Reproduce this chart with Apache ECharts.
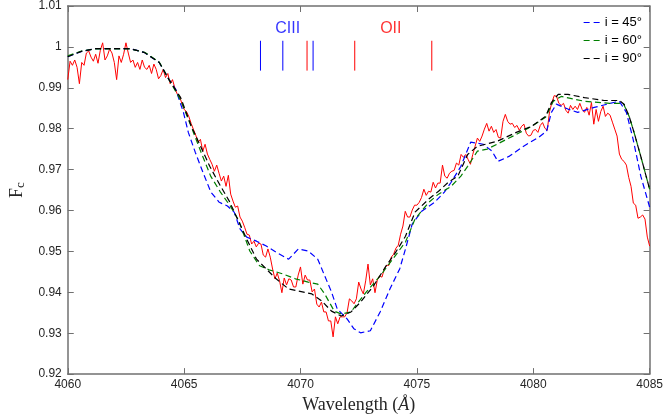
<!DOCTYPE html>
<html>
<head>
<meta charset="utf-8">
<script src="https://cdn.jsdelivr.net/npm/echarts@6/dist/echarts.min.js"></script>
<style>html,body{margin:0;padding:0;background:#fff}#main{width:666px;height:419px}</style>
</head>
<body>
<div id="main"></div>
<script>
// ---- Data ----
const xTicks = [4060, 4065, 4070, 4075, 4080, 4085];
const yTicks = [0.92, 0.93, 0.94, 0.95, 0.96, 0.97, 0.98, 0.99, 1.00, 1.01];

// observed spectrum (red), sampled every 0.1 Å from 4060.0
const obsStart = 4060.0;
const obsStep = 0.1;
const obsFlux = [
  0.9920, 0.9965, 0.9955, 0.9968, 0.9950, 0.9910, 0.9962, 0.9955, 0.9985, 0.9990,
  0.9975, 0.9965, 0.9982, 0.9960, 0.9992, 1.0010, 0.9968, 0.9978, 0.9995, 0.9985,
  0.9962, 0.9920, 0.9978, 0.9962, 0.9982, 1.0010, 0.9985, 0.9962, 0.9968, 0.9950,
  0.9962, 0.9945, 0.9968, 0.9950, 0.9945, 0.9955, 0.9935, 0.9958, 0.9945, 0.9922,
  0.9930, 0.9945, 0.9925, 0.9935, 0.9910, 0.9920, 0.9900, 0.9885, 0.9880, 0.9862,
  0.9847, 0.9842, 0.9830, 0.9813, 0.9798, 0.9784, 0.9767, 0.9774, 0.9745, 0.9762,
  0.9738, 0.9725, 0.9713, 0.9696, 0.9711, 0.9691, 0.9672, 0.9684, 0.9659, 0.9686,
  0.9640, 0.9623, 0.9608, 0.9611, 0.9584, 0.9574, 0.9559, 0.9542, 0.9540, 0.9518,
  0.9525, 0.9511, 0.9520, 0.9518, 0.9491, 0.9486, 0.9506, 0.9486, 0.9457, 0.9433,
  0.9447, 0.9428, 0.9399, 0.9435, 0.9418, 0.9433, 0.9430, 0.9413, 0.9413, 0.9442,
  0.9462, 0.9420, 0.9442, 0.9430, 0.9430, 0.9401, 0.9408, 0.9371, 0.9364, 0.9376,
  0.9352, 0.9352, 0.9330, 0.9330, 0.9291, 0.9340, 0.9323, 0.9340, 0.9340, 0.9340,
  0.9350, 0.9384, 0.9379, 0.9372, 0.9384, 0.9425, 0.9408, 0.9396, 0.9428, 0.9469,
  0.9418, 0.9433, 0.9399, 0.9430, 0.9440, 0.9437, 0.9457, 0.9466, 0.9466, 0.9486,
  0.9493, 0.9508, 0.9515, 0.9542, 0.9562, 0.9598, 0.9584, 0.9584, 0.9601, 0.9613,
  0.9613, 0.9620, 0.9632, 0.9652, 0.9637, 0.9647, 0.9645, 0.9669, 0.9655, 0.9667,
  0.9667, 0.9711, 0.9684, 0.9679, 0.9691, 0.9696, 0.9698, 0.9716, 0.9711, 0.9737,
  0.9730, 0.9737, 0.9725, 0.9713, 0.9737, 0.9757, 0.9777, 0.9769, 0.9782, 0.9799,
  0.9813, 0.9794, 0.9806, 0.9791, 0.9798, 0.9779, 0.9777, 0.9818, 0.9835, 0.9818,
  0.9811, 0.9813, 0.9803, 0.9808, 0.9796, 0.9806, 0.9811, 0.9789, 0.9782, 0.9784,
  0.9796, 0.9798, 0.9791, 0.9808, 0.9815, 0.9801, 0.9796, 0.9842, 0.9864, 0.9881,
  0.9879, 0.9862, 0.9857, 0.9862, 0.9845, 0.9838, 0.9857, 0.9847, 0.9855, 0.9847,
  0.9862, 0.9847, 0.9840, 0.9852, 0.9833, 0.9864, 0.9811, 0.9847, 0.9818, 0.9842,
  0.9855, 0.9830, 0.9838, 0.9833, 0.9816, 0.9799, 0.9782, 0.9738, 0.9725, 0.9720,
  0.9711, 0.9681, 0.9659, 0.9618, 0.9613, 0.9581, 0.9584, 0.9589, 0.9579, 0.9535,
  0.9513
];

// model i = 45°
const wave45 = [4060, 4060.59, 4061.21, 4062.68, 4063.30, 4063.93, 4064.35, 4064.64, 4064.97, 4065.18,
  4065.48, 4065.81, 4066.15, 4066.51, 4066.86, 4067.15, 4067.40, 4067.69, 4068.11, 4068.53,
  4068.95, 4069.49, 4069.91, 4070.33, 4070.74, 4071.04, 4071.33, 4071.58, 4072.00, 4072.29,
  4072.58, 4073.00, 4073.42, 4073.84, 4074.26, 4074.51, 4074.80, 4075.22, 4075.76, 4076.18,
  4076.47, 4076.89, 4077.31, 4077.85, 4078.23, 4078.48, 4078.98, 4079.52, 4080.23, 4080.57,
  4080.78, 4080.99, 4081.49, 4081.91, 4082.62, 4083.45, 4083.70, 4084.00, 4084.29, 4084.62,
  4085];
const flux45 = [0.9976, 0.9989, 0.9996, 0.9996, 0.9986, 0.9962, 0.9920, 0.9896, 0.9840, 0.9791,
  0.9742, 0.9693, 0.9645, 0.9620, 0.9611, 0.9596, 0.9555, 0.9535, 0.9525, 0.9513,
  0.9498, 0.9481, 0.9506, 0.9501, 0.9481, 0.9440, 0.9401, 0.9359, 0.9335, 0.9311,
  0.9301, 0.9306, 0.9352, 0.9408, 0.9457, 0.9506, 0.9567, 0.9599, 0.9620, 0.9645,
  0.9669, 0.9708, 0.9767, 0.9762, 0.9745, 0.9720, 0.9733, 0.9755, 0.9779, 0.9794,
  0.9840, 0.9860, 0.9848, 0.9840, 0.9852, 0.9864, 0.9867, 0.9840, 0.9774, 0.9684,
  0.9608];

// model i = 60°
const wave60 = [4060, 4060.59, 4061.21, 4062.68, 4063.30, 4063.93, 4064.35, 4064.85, 4065.18, 4065.73,
  4066.14, 4066.56, 4066.98, 4067.36, 4067.82, 4068.24, 4068.65, 4069.24, 4069.78, 4070.33,
  4070.74, 4071.04, 4071.45, 4071.75, 4072.17, 4072.42, 4072.83, 4073.42, 4073.96, 4074.51,
  4074.92, 4075.51, 4075.93, 4076.47, 4076.89, 4077.18, 4077.60, 4078.02, 4078.44, 4079.27,
  4079.94, 4080.53, 4080.86, 4081.20, 4082.20, 4083.29, 4083.87, 4084.12, 4084.33, 4084.62,
  4085];
const flux60 = [0.9978, 0.9990, 0.9995, 0.9995, 0.9987, 0.9963, 0.9920, 0.9870, 0.9823, 0.9742,
  0.9684, 0.9645, 0.9611, 0.9574, 0.9501, 0.9465, 0.9455, 0.9445, 0.9433, 0.9425,
  0.9420, 0.9396, 0.9354, 0.9347, 0.9352, 0.9371, 0.9401, 0.9440, 0.9481, 0.9523,
  0.9579, 0.9620, 0.9640, 0.9659, 0.9684, 0.9708, 0.9745, 0.9750, 0.9762, 0.9786,
  0.9806, 0.9828, 0.9867, 0.9879, 0.9867, 0.9862, 0.9862, 0.9830, 0.9791, 0.9732,
  0.9652];

// model i = 90°
const wave90 = [4060, 4060.59, 4061.21, 4062.68, 4063.30, 4063.93, 4064.35, 4064.85, 4065.31, 4065.73,
  4066.10, 4066.52, 4066.94, 4067.36, 4067.69, 4068.11, 4068.53, 4068.95, 4069.49, 4070.08,
  4070.49, 4070.91, 4071.33, 4071.75, 4072.17, 4072.58, 4073.13, 4073.67, 4074.09, 4074.51,
  4074.92, 4075.51, 4075.93, 4076.35, 4076.76, 4077.18, 4077.60, 4078.44, 4079.27, 4079.94,
  4080.53, 4080.78, 4081.07, 4081.49, 4082.20, 4083.04, 4083.70, 4083.91, 4084.12, 4084.33,
  4084.62, 4085];
const flux90 = [0.9976, 0.9989, 0.9996, 0.9996, 0.9986, 0.9962, 0.9920, 0.9876, 0.9806, 0.9754,
  0.9708, 0.9664, 0.9623, 0.9571, 0.9530, 0.9481, 0.9457, 0.9433, 0.9408, 0.9401,
  0.9396, 0.9379, 0.9354, 0.9342, 0.9352, 0.9376, 0.9415, 0.9464, 0.9498, 0.9537,
  0.9596, 0.9628, 0.9647, 0.9669, 0.9684, 0.9737, 0.9757, 0.9769, 0.9791, 0.9806,
  0.9830, 0.9864, 0.9884, 0.9884, 0.9876, 0.9869, 0.9869, 0.9859, 0.9830, 0.9791,
  0.9732, 0.9652];

// line identifications
const linesCIII = [4068.28, 4069.24, 4070.54];
const linesOII = [4070.28, 4072.33, 4075.64];
const markTop = 1.0015;
const markBottom = 0.9942;
const labelCIII = [4069.45, 1.0045];
const labelOII = [4073.88, 1.0045];

const seriesNames = ['i = 45°', 'i = 60°', 'i = 90°'];

// ---- Build ----
function zip(w, f) { return w.map((x, i) => [x, f[i]]); }
const obsData = obsFlux.map((v, i) => [+(obsStart + i * obsStep).toFixed(2), v]);

const axisColor = '#707070';
const tickFont = 'Liberation Sans, Arial, sans-serif';
const serif = 'Liberation Serif, Times New Roman, serif';

function xAx(pos, labels) {
  return {
    type: 'value', min: xTicks[0], max: xTicks[xTicks.length - 1], interval: 5, position: pos,
    axisLine: { show: true, onZero: false, lineStyle: { color: axisColor, width: 1.5 } },
    axisTick: { show: true, inside: true, length: 6, lineStyle: { color: axisColor, width: 1 } },
    axisLabel: { show: labels, color: '#262626', fontSize: 12, fontFamily: tickFont, margin: 5,
      formatter: v => String(v) },
    splitLine: { show: false }
  };
}
function yAx(pos, labels) {
  return {
    type: 'value', min: yTicks[0], max: yTicks[yTicks.length - 1], interval: 0.01, position: pos,
    axisLine: { show: true, onZero: false, lineStyle: { color: axisColor, width: 1.5 } },
    axisTick: { show: true, inside: true, length: 6, lineStyle: { color: axisColor, width: 1 } },
    axisLabel: { show: labels, color: '#262626', fontSize: 12, fontFamily: tickFont, margin: 6,
      formatter: v => String(parseFloat(v.toFixed(2))) },
    splitLine: { show: false }
  };
}

const xMain = xAx('bottom', true);
xMain.name = '{n|Wavelength (}{i|Å}{n|)}';
xMain.nameLocation = 'middle';
xMain.nameGap = 20;
xMain.nameTextStyle = { rich: {
  n: { fontFamily: serif, fontSize: 18, color: '#262626' },
  i: { fontFamily: serif, fontSize: 18, fontStyle: 'italic', color: '#262626' } } };

const yMain = yAx('left', true);
yMain.name = '{f|F}{s|c}';
yMain.nameLocation = 'middle';
yMain.nameGap = 32;
yMain.nameRotate = 90;
yMain.nameTextStyle = { rich: {
  f: { fontFamily: serif, fontSize: 18, color: '#262626' },
  s: { fontFamily: serif, fontSize: 13, color: '#262626', padding: [8, 0, 0, 0] } } };

// vertical identification ticks drawn as a broken line series
function idLines(name, waves, color) {
  const data = [];
  waves.forEach(w => { data.push([w, markTop], [w, markBottom], [w, null]); });
  return {
    name: name, type: 'line', data: data, silent: true, color: color,
    showSymbol: false, symbol: 'none', connectNulls: false,
    lineStyle: { color: color, type: 'solid', width: 1 }, z: 6
  };
}

const dash = [6, 3.5];
const option = {
  animation: false,
  backgroundColor: '#ffffff',
  grid: { left: 56, right: 12, top: 6, bottom: 44, containLabel: false },
  legend: {
    data: seriesNames, orient: 'vertical', right: 19, top: 11, itemGap: 5,
    itemWidth: 16, itemHeight: 12,
    itemStyle: { opacity: 0 },
    lineStyle: { type: [6, 4], width: 1.2 },
    textStyle: { fontSize: 13, fontFamily: tickFont, color: '#000' }
  },
  xAxis: [xMain, xAx('top', false)],
  yAxis: [yMain, yAx('right', false)],
  series: [
    { name: 'observed', type: 'line', data: obsData, showSymbol: false, symbol: 'none',
      lineStyle: { color: '#ff0000', width: 1 }, itemStyle: { color: '#ff0000' }, z: 2 },
    { name: seriesNames[0], type: 'line', data: zip(wave45, flux45), showSymbol: false, symbol: 'none',
      color: '#0000ff', lineStyle: { color: '#0000ff', width: 1.2, type: dash }, z: 3 },
    { name: seriesNames[1], type: 'line', data: zip(wave60, flux60), showSymbol: false, symbol: 'none',
      color: '#007f00', lineStyle: { color: '#007f00', width: 1.2, type: dash }, z: 4 },
    { name: seriesNames[2], type: 'line', data: zip(wave90, flux90), showSymbol: false, symbol: 'none',
      color: '#000000', lineStyle: { color: '#000000', width: 1.2, type: dash }, z: 5 },
    idLines('CIII lines', linesCIII, '#0000ff'),
    idLines('OII lines', linesOII, '#ff0000'),
    { name: 'labels', type: 'scatter', symbolSize: 1, silent: true,
      itemStyle: { color: 'rgba(0,0,0,0)' },
      data: [
        { value: labelCIII, label: { show: true, position: 'inside', formatter: 'CIII', color: '#0000ff', fontSize: 16, fontFamily: tickFont } },
        { value: labelOII, label: { show: true, position: 'inside', formatter: 'OII', color: '#ff0000', fontSize: 16, fontFamily: tickFont } }
      ] }
  ]
};
const chart = echarts.init(document.getElementById('main'));
chart.setOption(option);
</script>
</body>
</html>
